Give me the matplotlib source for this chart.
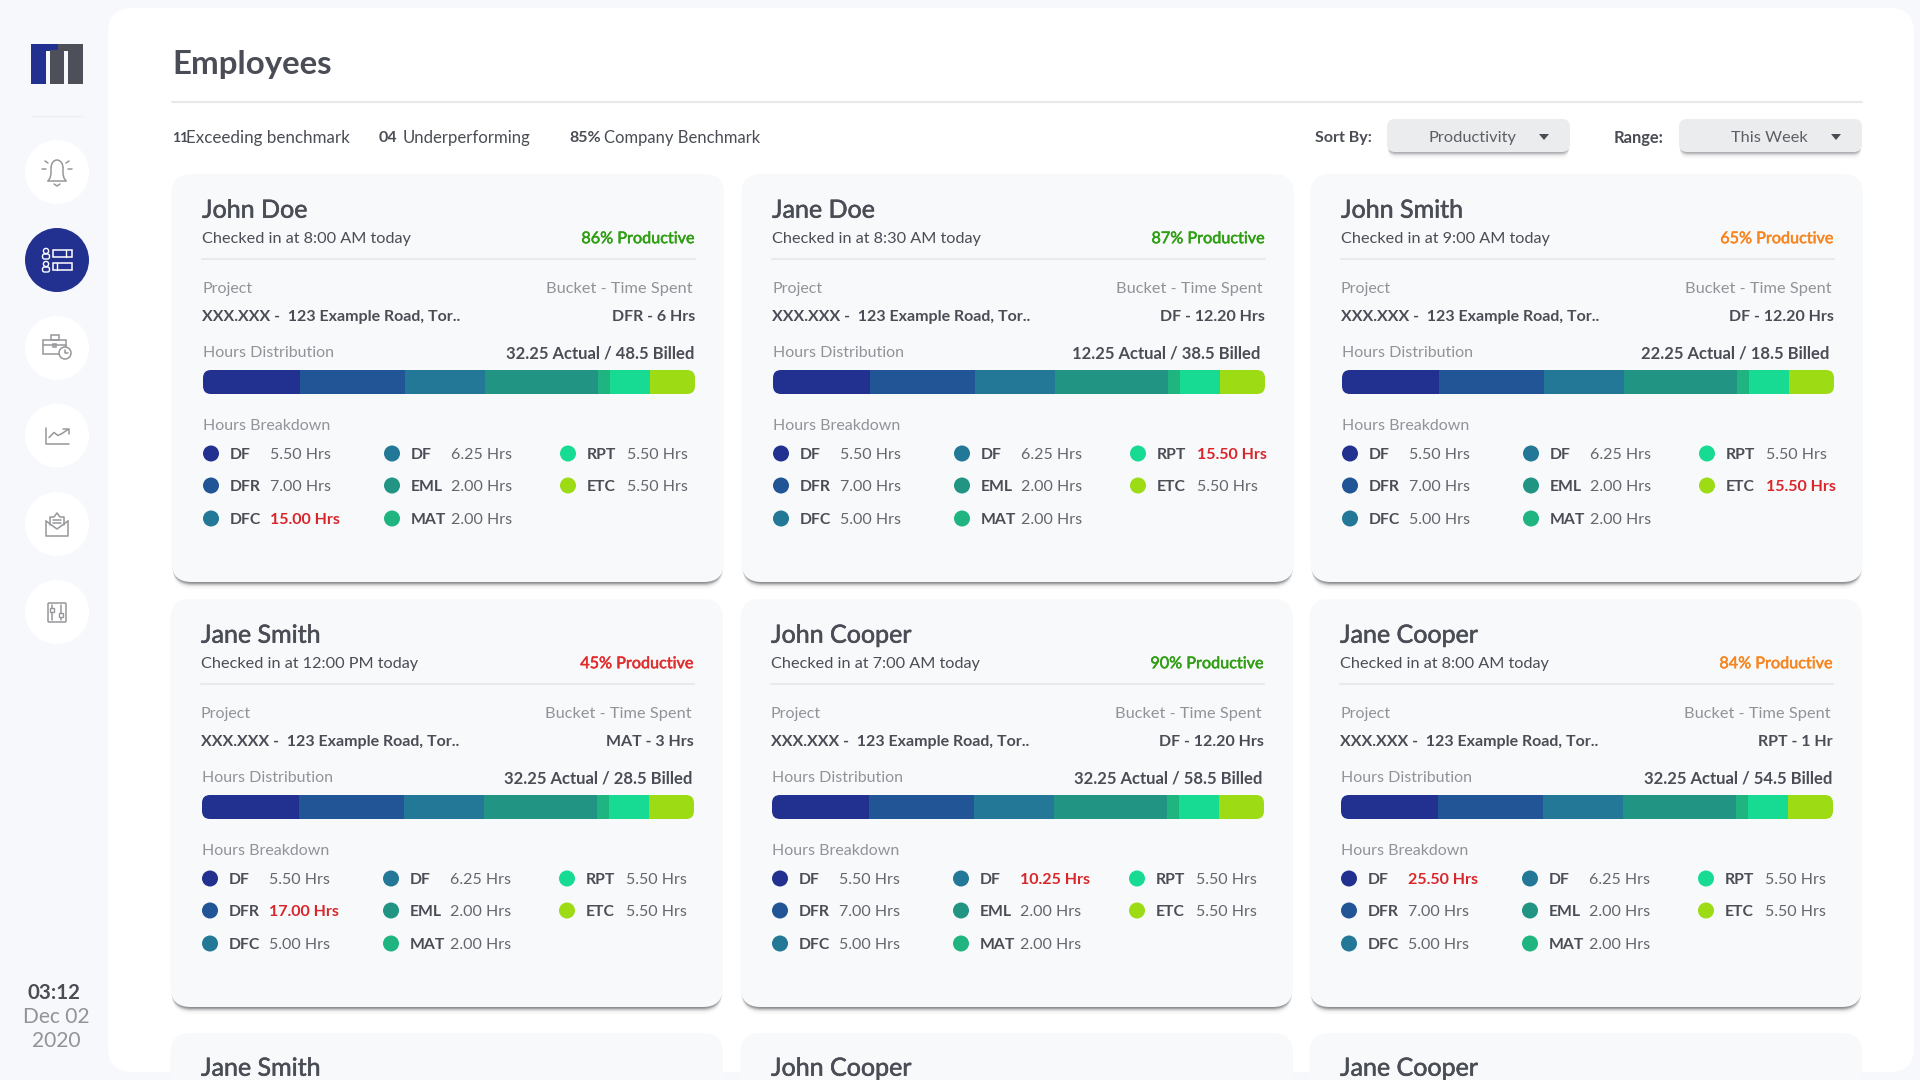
import matplotlib
matplotlib.use("Agg")
import matplotlib.pyplot as plt
import matplotlib.patheffects as pe
from matplotlib.patches import FancyBboxPatch, Circle, Polygon, Rectangle, Arc

plt.rcParams['font.family'] = ['Lato', 'DejaVu Sans']

# chart data
names = ["John Doe", "Jane Doe", "John Smith", "Jane Smith", "John Cooper", "Jane Cooper"]
checkins = ["8:00 AM", "8:30 AM", "9:00 AM", "12:00 PM", "7:00 AM", "8:00 AM"]
productive = [86, 87, 65, 45, 90, 84]
prod_level = ["good", "good", "mid", "bad", "good", "mid"]
buckets = ["DFR - 6 Hrs", "DF - 12.20 Hrs", "DF - 12.20 Hrs", "MAT - 3 Hrs", "DF - 12.20 Hrs", "RPT - 1 Hr"]
actual = ["32.25", "12.25", "22.25", "32.25", "32.25", "32.25"]
billed = ["48.5", "38.5", "18.5", "28.5", "58.5", "54.5"]
bucket_labels = ["DF", "DFR", "DFC", "DF", "EML", "MAT", "RPT", "ETC"]
hours_base = ["5.50", "7.00", "5.00", "6.25", "2.00", "2.00", "5.50", "5.50"]
over_index = [2, 6, 7, 1, 3, 0]
over_value = ["15.00", "15.50", "15.50", "17.00", "10.25", "25.50"]
dist_shares = [19.7, 21.4, 16.3, 23.0, 2.5, 8.1, 9.2]
row3_names = ["Jane Smith", "John Cooper", "Jane Cooper"]

BG = "#f7f8fb"
CARD = "#f8f9fb"
DARK = "#4a4d55"
MUTED = "#909398"
LINE = "#e8eaed"
NAVY = "#22318f"
ICON = "#95979a"
RED = "#d9262b"
prod_colors = {"good": "#2f9e12", "mid": "#f7851f", "bad": "#e12d2d"}
dist_colors = ["#22318f", "#225595", "#227896", "#219484", "#20b580", "#18db93", "#9ddb14"]
dot_colors = ["#22318f", "#225595", "#227896", "#227896", "#219484", "#20b580", "#18db93", "#9ddb14"]

fig = plt.figure(figsize=(19.2, 10.8), dpi=100, facecolor=BG)
ax = fig.add_axes([0, 0, 1, 1])
ax.set_xlim(0, 1920)
ax.set_ylim(1080, 0)
ax.axis("off")


def txt(x, y, s, size, color=DARK, bold=False, ha="left", z=5, heavy=0):
    t = ax.text(x, y + 1.2, s, fontsize=size * 0.72, color=color, ha=ha, va="center",
                fontweight="bold" if bold else "normal", zorder=z)
    if heavy:
        # lato has no medium cut here, thicken the regular one a little
        t.set_path_effects([pe.withStroke(linewidth=heavy, foreground=color)])


def box(x0, y0, x1, y1, r, color, z=2, alpha=1.0):
    p = FancyBboxPatch((x0 + r, y0 + r), x1 - x0 - 2 * r, y1 - y0 - 2 * r,
                       boxstyle="round,pad=%f,rounding_size=%f" % (r, r),
                       fc=color, ec="none", alpha=alpha, zorder=z)
    ax.add_patch(p)
    return p


def shadow(x0, y0, x1, y1, r, strength=1.0, z=2):
    for off, a in [(7, 0.05), (5, 0.08), (4, 0.12), (3, 0.22), (2, 0.35), (1, 0.3)]:
        box(x0 + 1, y0 + off, x1 - 1, y1 + off, r, "#4d5157", z=z, alpha=a * strength)


def line(xs, ys, color=ICON, lw=1.1, z=6):
    ax.plot(xs, ys, color=color, lw=lw, solid_capstyle="round", zorder=z)


def rect_icon(x, y, w, h, color=ICON, lw=1.1):
    ax.add_patch(Rectangle((x, y), w, h, fc="none", ec=color, lw=lw, zorder=6))


def draw_card(x, y, i):
    shadow(x - 0.5, y, x + 552, y + 408, 20, strength=0.8)
    box(x - 0.5, y, x + 552, y + 408, 20, CARD, z=3)
    left = x + 30
    right = x + 523
    txt(left, y + 35, names[i], 25, heavy=0.4)
    txt(left, y + 64, "Checked in at %s today" % checkins[i], 16.3)
    txt(right, y + 64, "%d%% Productive" % productive[i], 16.2, prod_colors[prod_level[i]], ha="right", heavy=0.35)
    line([left, right], [y + 85, y + 85], LINE, 1.5)
    txt(left, y + 114, "Project", 16, MUTED)
    txt(right - 2, y + 114, "Bucket - Time Spent", 16.4, MUTED, ha="right")
    txt(left, y + 142, "XXX.XXX -  123 Example Road, Tor..", 16, bold=True)
    txt(right, y + 142, buckets[i], 16, bold=True, ha="right")
    txt(left + 1, y + 178, "Hours Distribution", 16, MUTED)
    txt(right - bill_nudge[i], y + 178, "%s Actual / %s Billed" % (actual[i], billed[i]), 16.6, bold=True, ha="right")

    # stacked distribution bar
    bx0, bx1, by0, by1 = left + 1, right, y + 196, y + 220
    clip = box(bx0, by0, bx1, by1, 8, "none", z=1)
    bar_ax = fig.add_axes([bx0 / 1920, 1 - by1 / 1080, (bx1 - bx0) / 1920, (by1 - by0) / 1080])
    bar_ax.axis("off")
    start = 0
    for share, col in zip(dist_shares, dist_colors):
        b = bar_ax.barh(0, share, left=start, height=1, color=col, linewidth=0)
        b[0].set_clip_path(clip)
        start += share
    bar_ax.set_xlim(0, start)
    bar_ax.set_ylim(-0.5, 0.5)

    txt(left + 1, y + 251, "Hours Breakdown", 16, MUTED)
    for k, lab in enumerate(bucket_labels):
        col, row = col_of[k], row_of[k]
        dy = y + row_y[row]
        ax.add_patch(Circle((x + col_dot[col], dy), 8, fc=dot_colors[k], ec="none", zorder=5))
        txt(x + col_lab[col], dy, lab, 15.8, bold=True)
        if over_index[i] == k:
            txt(x + col_val[col], dy, over_value[i] + " Hrs", 16, RED, bold=True)
        else:
            txt(x + col_val[col], dy, hours_base[k] + " Hrs", 16, "#63666c")


bill_nudge = [1, 5, 5, 2, 2, 1]
col_of = [0, 0, 0, 1, 1, 1, 2, 2]
row_of = [0, 1, 2, 0, 1, 2, 0, 1]
row_y = [279.5, 311.5, 344.5]
col_dot = [39, 220, 396]
col_lab = [58, 239, 415]
col_val = [98, 279, 455]
col_x = [172, 742, 1311]
row_top = [174, 599]
row_shift = [0, -1]

# page panel
box(108, 8, 1914, 1072, 24, "white", z=1)

# logo
ax.add_patch(Rectangle((31, 44), 14.5, 39.5, fc=NAVY, ec="none", zorder=4))
ax.add_patch(Rectangle((45, 44), 13, 6.5, fc=NAVY, ec="none", zorder=4))
ax.add_patch(Rectangle((58, 44), 25, 6.5, fc="#4d5058", ec="none", zorder=4))
ax.add_patch(Rectangle((50, 50), 14, 34, fc="#4d5058", ec="none", zorder=4))
ax.add_patch(Rectangle((68, 50), 15, 34, fc="#4d5058", ec="none", zorder=4))
line([32, 82], [115.5, 115.5], "#eceef0", 1)

# sidebar buttons
circle_y = [172, 260, 348, 435.5, 524, 612]
for n, cy in enumerate(circle_y):
    ax.add_patch(Circle((57, cy), 32, fc=NAVY if n == 1 else "white", ec="none", zorder=4))

# bell
cy = circle_y[0]
line([48, 50, 51, 51], [cy + 9, cy + 6, cy + 2, cy - 4])
line([66, 64, 63, 63], [cy + 9, cy + 6, cy + 2, cy - 4])
line([48, 66], [cy + 9, cy + 9])
ax.add_patch(Arc((57, cy - 4), 12, 16, theta1=180, theta2=360, ec=ICON, lw=1.1, zorder=6))
line([54, 57, 60], [cy + 12, cy + 14, cy + 12])
line([42, 46], [cy - 3, cy - 3])
line([68, 72], [cy - 3, cy - 3])
line([45, 48], [cy - 11, cy - 9])
line([66, 69], [cy - 9, cy - 11])

# employee list icon
cy = circle_y[1]
for off in (-7, 6):
    ax.add_patch(Circle((46, cy + off - 2), 2.6, fc="none", ec="white", lw=1.0, zorder=6))
    ax.add_patch(FancyBboxPatch((44, cy + off + 2.5), 4, 2, boxstyle="round,pad=1.5,rounding_size=2",
                                fc="none", ec="white", lw=1.0, zorder=6))
    rect_icon(53, cy + off - 3.5, 19, 7, "white", 1.1)
line([66, 66], [cy - 10.5, cy - 3.5], "white", 1.0)
line([57, 57], [cy + 2.5, cy + 9.5], "white", 1.0)

# briefcase and clock
cy = circle_y[2]
rect_icon(43, cy - 8, 23, 14)
rect_icon(51, cy - 13, 8, 5)
line([43, 66], [cy - 3, cy - 3])
rect_icon(53, cy - 4, 3, 3)
ax.add_patch(Circle((65, cy + 5), 6, fc="white", ec=ICON, lw=1.1, zorder=7))
line([65, 65, 68], [cy + 2, cy + 5, cy + 5], z=8)

# trend icon
cy = circle_y[3]
line([46, 46, 69], [cy - 8, cy + 8, cy + 8])
line([49, 54, 58, 62, 68], [cy + 2, cy - 3, cy, cy - 2, cy - 6])
line([63, 69, 69], [cy - 7, cy - 7, cy - 2])

# open envelope
cy = circle_y[4]
line([46, 46, 68, 68], [cy - 3, cy + 12, cy + 12, cy - 3])
line([46, 57, 68], [cy - 3, cy + 5, cy - 3])
line([50, 50, 54, 57, 60, 64, 64], [cy + 1, cy - 7, cy - 7, cy - 11, cy - 7, cy - 7, cy + 1])
line([53, 61], [cy - 4, cy - 4])
line([53, 61], [cy - 1, cy - 1])

# slider icon
cy = circle_y[5]
ax.add_patch(FancyBboxPatch((48, cy - 9), 18, 19, boxstyle="round,pad=0,rounding_size=1",
                            fc="none", ec=ICON, lw=1.1, zorder=6))
line([52, 52], [cy - 7, cy + 8])
line([61, 61], [cy - 7, cy + 8])
ax.add_patch(Rectangle((50, cy - 4), 4, 4, fc="white", ec=ICON, lw=1.0, zorder=7))
ax.add_patch(Rectangle((59, cy + 1), 4, 4, fc="white", ec=ICON, lw=1.0, zorder=7))

# clock
txt(54, 992, "03:12", 20.5, bold=True, ha="center")
txt(56, 1016, "Dec 02", 21, MUTED, ha="center")
txt(56, 1040, "2020", 21, MUTED, ha="center")

# header
txt(172, 63, "Employees", 33, bold=True)
line([172, 1862], [102, 102], "#e6e8ea", 1.6)

txt(172, 136.5, "11", 14, bold=True)
txt(186.5, 136.5, "Exceeding benchmark", 17)
txt(379, 136.5, "04", 16, bold=True)
txt(403, 136.5, "Underperforming", 16.7)
txt(569, 136.5, "85%", 16, bold=True)
txt(604, 136.5, "Company Benchmark", 16.6)

# dropdowns
txt(1315, 136.5, "Sort By:", 16, bold=True)
txt(1614, 136.5, "Range:", 16.5, bold=True)
for x0, x1, label, tx, tri in [(1387, 1570, "Productivity", 1472, 1544), (1679, 1862, "This Week", 1769, 1836)]:
    shadow(x0, 119, x1, 152, 8, strength=0.5)
    box(x0, 119, x1, 152, 8, "#ebecee", z=3)
    txt(tx, 136.5, label, 16.4, "#5c5f65", ha="center")
    ax.add_patch(Polygon([(tri - 5, 134), (tri + 5, 134), (tri, 140)], fc=DARK, ec="none", zorder=5))

# employee cards
for i in range(6):
    draw_card(col_x[i % 3] + row_shift[i // 3], row_top[i // 3], i)

# third row, cut off by the bottom of the page
for k, nm in enumerate(row3_names):
    x = col_x[k] - 1
    box(x - 0.5, 1033, x + 552, 1200, 20, CARD, z=3)
    txt(x + 30, 1067, nm, 25, heavy=0.4)

fig.savefig("out.png", dpi=100, facecolor=BG)
